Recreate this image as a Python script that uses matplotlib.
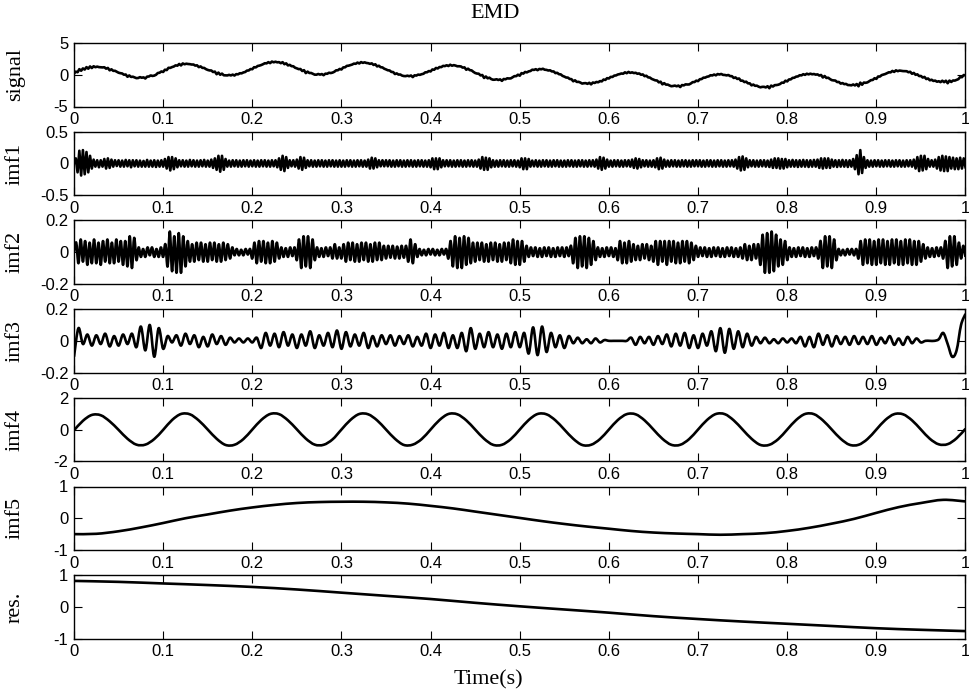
import numpy as np
import matplotlib
matplotlib.use("Agg")
import matplotlib.pyplot as plt
from matplotlib.ticker import FuncFormatter
from matplotlib.path import Path
from matplotlib.patches import PathPatch

plt.rcParams['axes.unicode_minus'] = False
plt.rcParams['font.family'] = ['Liberation Sans', 'DejaVu Sans']

# ---------------- data ----------------
# imf1: sampled every 0.002 s (t = 0 .. 1)
imf1 = [
    .00,.08,-.14,.2,-.19,.21,-.17,.18,-.14,.12,-.08,.06,-.05,.05,-.06,.05,-.05,.07,-.08,.08,-.07,.06,-.05,.05,-.04,
    .05,-.05,.045,-.05,.055,-.045,.05,-.06,.05,-.045,.05,-.05,.045,-.05,.04,-.05,.055,-.05,.045,-.05,.05,-.055,.045,-.05,.05,
    -.05,.07,-.08,.1,-.11,.1,-.09,.08,-.06,.05,-.045,.05,-.05,.045,-.05,.055,-.045,.05,-.05,.045,-.05,.05,-.045,.055,-.05,
    .045,-.05,.06,-.07,.08,-.1,.12,-.13,.12,-.1,.07,-.05,.045,-.05,.05,-.045,.05,-.05,.045,-.05,.05,-.045,.05,-.05,.045,
    -.045,.05,-.05,.045,-.05,.05,-.045,.05,-.05,.045,-.05,.05,-.045,.05,-.06,.08,-.1,.12,-.12,.1,-.07,.05,-.045,.05,-.05,
    .06,-.08,.1,-.1,.09,-.07,.05,-.045,.05,-.05,.045,-.05,.05,-.045,.05,-.05,.045,-.05,.05,-.045,.05,-.05,.045,-.05,.05,
    -.05,.045,-.05,.05,-.045,.05,-.05,.045,-.05,.05,-.045,.05,-.05,.045,-.05,.06,-.08,.09,-.08,.08,-.06,.05,-.045,.05,-.045,
    .05,-.045,.05,-.05,.045,-.05,.05,-.045,.05,-.05,.045,-.05,.05,-.045,.05,-.05,.045,-.05,.05,-.045,.05,-.05,.045,-.05,.05,
    -.06,.08,-.09,.08,-.09,.08,-.06,.05,-.045,.05,-.045,.05,-.05,.045,-.05,.05,-.045,.05,-.05,.045,-.05,.05,-.045,.05,-.05,
    .045,-.05,.06,-.08,.1,-.1,.09,-.1,.08,-.06,.05,-.05,.045,-.05,.05,-.045,.05,-.05,.045,-.05,.05,-.045,.05,-.05,.045,
    -.06,.08,-.09,.08,-.09,.07,-.05,.045,-.045,.05,-.05,.045,-.05,.05,-.045,.05,-.05,.045,-.05,.05,-.045,.05,-.05,.045,-.05,
    .045,-.05,.05,-.045,.05,-.05,.045,-.05,.05,-.045,.05,-.05,.045,-.05,.05,-.045,.05,-.05,.06,-.08,.1,-.1,.09,-.08,.06,
    -.05,.045,-.05,.05,-.045,.05,-.05,.045,-.05,.05,-.045,.05,-.05,.06,-.07,.08,-.08,.07,-.06,.05,-.045,.05,-.05,.045,-.05,
    .05,-.06,.08,-.09,.09,-.08,.06,-.05,.045,-.05,.05,-.045,.05,-.05,.045,-.05,.05,-.045,.05,-.05,.045,-.05,.05,-.045,.05,
    -.045,.05,-.05,.045,-.05,.05,-.045,.05,-.05,.045,-.05,.05,-.045,.05,-.05,.045,-.05,.05,-.045,.05,-.05,.06,-.08,.1,-.11,
    .11,-.1,.08,-.06,.05,-.045,.05,-.05,.045,-.05,.05,-.045,.05,-.05,.045,-.055,.06,-.07,.08,-.07,.08,-.08,.07,-.08,.07,
    -.06,.05,-.05,.055,-.05,.05,-.055,.05,-.05,.055,-.05,.05,-.055,.05,-.05,.055,-.05,.06,-.07,.08,-.08,.08,-.07,.08,-.07,
    .06,-.05,.05,-.055,.05,-.05,.055,-.05,.05,-.055,.05,-.05,.07,-.09,.13,-.17,.21,-.15,.1,-.07,.05,-.05,.045,-.05,.05,
    -.045,.05,-.05,.045,-.05,.05,-.045,.05,-.05,.045,-.05,.05,-.045,.05,-.05,.045,-.05,.05,-.045,.05,-.05,.06,-.08,.1,-.12,
    .12,-.11,.12,-.09,.07,-.05,.05,-.05,.06,-.08,.1,-.11,.12,-.12,.11,-.12,.1,-.08,.09,-.09,.08,-.09,.09,-.08,.08,
    -.06,
]

# imf2: sampled every 0.0025 s
imf2 = [
    .0,.06,-.07,.08,-.06,.07,-.08,.06,-.07,.08,-.07,.06,-.08,.07,-.06,.08,-.07,.06,-.07,.08,
    -.06,.07,-.08,.07,-.09,.1,-.1,.09,-.05,.03,-.03,.02,-.03,.03,-.02,.03,-.03,.02,-.03,.03,
    -.03,.05,-.09,.13,-.12,.1,-.13,.12,-.13,.1,-.09,.07,-.06,.05,-.06,.06,-.05,.06,-.06,.05,
    -.06,.06,-.05,.06,-.06,.05,-.06,.06,-.05,.05,-.04,.03,-.02,.02,-.02,.015,-.02,.02,-.015,.02,
    -.04,.06,-.07,.07,-.06,.07,-.07,.06,-.07,.07,-.06,.06,-.04,.03,-.03,.025,-.03,.03,-.025,.03,
    -.05,.08,-.1,.1,-.09,.1,-.1,.08,-.05,.03,-.03,.025,-.03,.03,-.025,.03,-.04,.05,-.04,.03,
    -.04,.05,-.06,.06,-.05,.06,-.06,.05,-.06,.06,-.05,.06,-.06,.05,-.06,.06,-.05,.06,-.05,.04,
    -.04,.04,-.035,.04,-.04,.035,-.04,.04,-.035,.04,-.06,.08,-.07,.05,-.03,.02,-.02,.015,-.02,.02,
    -.015,.02,-.02,.015,-.02,.02,-.015,.02,-.04,.07,-.09,.1,-.1,.09,-.1,.1,-.08,.09,-.07,.06,
    -.06,.06,-.05,.06,-.06,.05,-.06,.06,-.05,.06,-.06,.05,-.06,.06,-.05,.06,-.07,.08,-.08,.07,
    -.08,.07,-.06,.04,-.03,.03,-.025,.03,-.03,.025,-.03,.03,-.025,.03,-.03,.025,-.03,.03,-.025,.03,
    -.03,.03,-.025,.04,-.07,.09,-.1,.1,-.09,.1,-.1,.09,-.08,.07,-.05,.03,-.03,.025,-.03,.03,
    -.025,.03,-.03,.025,-.05,.07,-.07,.06,-.07,.07,-.06,.05,-.05,.04,-.05,.05,-.04,.05,-.05,.04,
    -.06,.07,-.08,.07,-.06,.07,-.08,.07,-.06,.07,-.07,.06,-.07,.07,-.06,.07,-.07,.06,-.05,.04,
    -.03,.03,-.025,.03,-.03,.025,-.03,.03,-.025,.03,-.03,.025,-.03,.03,-.025,.03,-.03,.025,-.03,.03,
    -.04,.05,-.05,.04,-.05,.05,-.04,.05,-.08,.11,-.13,.12,-.13,.13,-.12,.11,-.09,.08,-.08,.07,
    -.05,.03,-.03,.025,-.03,.03,-.025,.03,-.03,.025,-.03,.03,-.025,.03,-.04,.07,-.1,.1,-.09,.1,
    -.1,.08,-.05,.02,-.02,.015,-.02,.02,-.015,.02,-.02,.02,-.04,.07,-.08,.08,-.07,.08,-.08,.07,
    -.08,.08,-.07,.08,-.08,.07,-.08,.08,-.07,.08,-.08,.07,-.08,.08,-.07,.08,-.08,.07,-.08,.07,
    -.06,.05,-.04,.03,-.03,.025,-.03,.03,-.025,.03,-.04,.07,-.1,.1,-.09,.1,-.08,.06,-.04,.04,
    -.03,
]

# imf3: sampled every 0.005 s
imf3 = [
    -.1,.08,-.02,.04,-.03,.035,-.02,.045,-.035,.03,
    -.03,.04,-.02,.045,-.04,.09,-.06,.1,-.1,.08,
    -.05,.03,-.01,.035,-.03,.045,-.02,.035,-.04,.025,
    -.035,.04,-.02,.03,-.025,.02,-.01,.015,-.01,.015,
    -.01,.02,-.045,.05,-.03,.045,-.04,.055,-.03,.04,
    -.045,.04,-.03,.06,-.045,.035,-.03,.05,-.04,.065,
    -.05,.055,-.035,.04,-.03,.05,-.045,.03,-.035,.035,
    -.02,.035,-.03,.03,-.02,.035,-.035,.025,-.03,.045,
    -.045,.04,-.03,.05,-.045,.035,-.045,.05,-.065,.08,
    -.05,.045,-.04,.055,-.04,.04,-.05,.045,-.04,.055,
    -.04,.05,-.08,.085,-.09,.09,-.07,.05,-.04,.035,
    -.045,.03,-.015,.02,-.015,.01,-.015,.015,-.01,.005,
    0,0,0,0,0,.02,-.025,.025,-.015,.025,
    -.025,.03,-.02,.04,-.035,.045,-.03,.05,-.045,.035,
    -.045,.045,-.03,.06,-.065,.08,-.075,.075,-.05,.06,
    -.04,.045,-.03,.025,-.015,.02,-.015,.01,-.015,.015,
    -.01,.015,-.015,.025,-.035,.025,-.04,.045,-.025,.035,
    -.035,.03,-.02,.025,-.025,.03,-.02,.025,-.02,.03,
    -.025,.02,-.015,.03,-.025,.015,-.025,.025,-.015,.015,
    -.01,0,0,0,.01,.05,-.02,-.1,-.06,.1,
    .17,
]

# imf4: sampled every 0.01 s
imf4 = [
    -.05,.55,.92,.9,.52,-.02,-.58,-.95,-.95,-.6,
    -.02,.6,.98,.96,.57,0,-.58,-.97,-.96,-.6,
    0,.6,.98,.97,.58,.01,-.57,-.95,-.96,-.62,
    0,.6,.98,.96,.58,0,-.58,-.97,-.95,-.6,
    0,.6,.98,.96,.58,0,-.58,-.96,-.96,-.6,
    0,.6,.98,.96,.58,0,-.58,-.97,-.96,-.6,
    0,.6,.97,.96,.58,0,-.58,-.96,-.96,-.6,
    0,.6,.98,.97,.58,0,-.58,-.97,-.96,-.6,
    0,.6,.98,.97,.58,0,-.58,-.96,-.96,-.6,
    0,.6,.97,.96,.58,0,-.58,-.93,-.92,-.55,
    .05,
]

# imf5: sampled every 0.025 s
imf5 = [-.50,-.49,-.41,-.29,-.15,0.0,.12,.24,.34,.42,.48,.51,.52,.52,.50,.46,.39,.31,.21,.11,
        .01,-.09,-.18,-.26,-.33,-.40,-.45,-.48,-.50,-.52,-.50,-.47,-.40,-.30,-.17,-.02,.17,.35,.48,.58,.53]

# residue: sampled every 0.05 s
res = [.82,.79,.74,.69,.63,.55,.45,.35,.25,.13,.02,-.08,-.18,-.29,-.38,-.46,-.53,-.6,-.67,-.72,-.76]

row_labels = ['signal', 'imf1', 'imf2', 'imf3', 'imf4', 'imf5', 'res.']
row_limits = [5, 0.5, 0.2, 0.2, 2, 1, 1]
x_ticks = [0, 0.1, 0.2, 0.3, 0.4, 0.5, 0.6, 0.7, 0.8, 0.9, 1]
title_text = 'EMD'
xlabel_text = 'Time(s)'


# ---------------- helpers ----------------
def grid(arr):
    return np.linspace(0, 1, len(arr))


def smooth_path(x, y):
    """Catmull-Rom curve through the given points (drawing style only)."""
    x = np.asarray(x, float)
    y = np.asarray(y, float)
    P = np.column_stack([x, y])
    Pp = np.vstack([P[:1], P, P[-1:]])
    verts = [P[0]]
    codes = [Path.MOVETO]
    for i in range(len(P) - 1):
        p0, p1, p2, p3 = Pp[i], Pp[i + 1], Pp[i + 2], Pp[i + 3]
        c1 = p1 + (p2 - p0) / 6.0
        c2 = p2 - (p3 - p1) / 6.0
        verts += [c1, c2, p2]
        codes += [Path.CURVE4] * 3
    return Path(np.array(verts), codes)


t1, t2, t3, t4, t5, tr = map(grid, (imf1, imf2, imf3, imf4, imf5, res))
# the signal is the sum of all components (EMD reconstruction)
signal = (np.array(imf1) + np.interp(t1, t2, imf2) + np.interp(t1, t3, imf3)
          + np.interp(t1, t4, imf4) + np.interp(t1, t5, imf5) + np.interp(t1, tr, res))

# (x, y, linewidth, smooth)
series = [(t1, signal, 1.9, False), (t1, imf1, 1.9, False), (t2, imf2, 1.9, True),
          (t3, imf3, 1.9, True), (t4, imf4, 1.9, True), (t5, imf5, 1.9, True), (tr, res, 1.9, True)]

# ---------------- figure ----------------
W, H = 970, 695
fig = plt.figure(figsize=(W / 100, H / 100), dpi=100)

left_px, right_px = 74, 965.5
top0_px, step_px, h_px = 43, 88.7, 63.5
serif = 'Liberation Serif'
fmt = FuncFormatter(lambda v, p: '%g' % v)

for i, ((tx, y, lw, smooth), lab, lim) in enumerate(zip(series, row_labels, row_limits)):
    top = top0_px + step_px * i
    ax = fig.add_axes([left_px / W, 1 - (top + h_px) / H, (right_px - left_px) / W, h_px / H])
    if smooth:
        ax.add_patch(PathPatch(smooth_path(tx, y), fill=False, edgecolor='black',
                               lw=lw, joinstyle='round', capstyle='butt'))
    else:
        ax.plot(tx, y, color='black', lw=lw)
    ax.set_xlim(0, 1)
    ax.set_ylim(-lim, lim)
    ax.set_yticks([-lim, 0, lim])
    ax.set_xticks(x_ticks)
    ax.xaxis.set_major_formatter(fmt)
    ax.yaxis.set_major_formatter(fmt)
    ax.tick_params(direction='in', length=6, width=0.8, top=True, right=True,
                   pad=4, colors='black', labelsize=12)
    for s in ax.spines.values():
        s.set_linewidth(1.0)
    ax.set_ylabel(lab, family=serif, fontsize=16)
    ax.yaxis.set_label_coords(-0.055, 0.5)

fig.text(0.51, 1 - 14 / H, title_text, family=serif, fontsize=16, ha='center', va='center')
fig.text(0.503, 1 - 680 / H, xlabel_text, family=serif, fontsize=16, ha='center', va='center')

fig.savefig('out.png', dpi=100)
